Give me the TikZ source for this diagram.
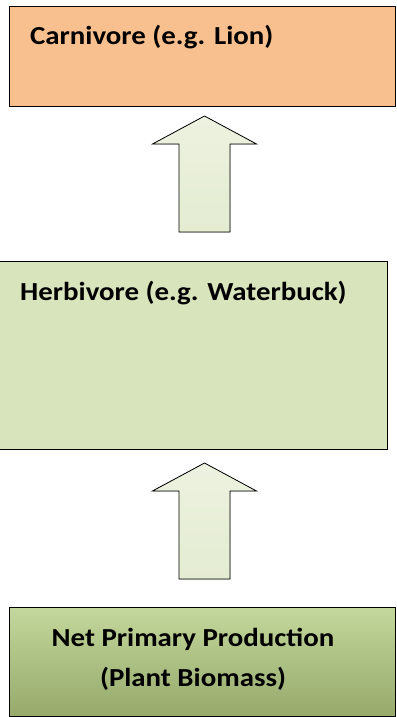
\documentclass[tikz,border=0pt]{standalone}
\usepackage{fontspec}
\setmainfont{Carlito}[FakeStretch=1.11]
\usetikzlibrary{positioning}
\tikzstyle{pixelGrid} = [x = 1pt, y = -1pt]
\definecolor{carnivoreColor}{HTML}{F8C08F}
\definecolor{herbivoreColor}{HTML}{D8E4BC}
\definecolor{productionTop}{HTML}{C4D79C}
\definecolor{productionBottom}{HTML}{97AA6C}
\definecolor{arrowTop}{HTML}{EDF2E0}
\definecolor{arrowBottom}{HTML}{E4ECD2}
\tikzstyle{levelStyle} = [draw=black, line width=1pt]
\tikzstyle{levelText} = [font=\fontsize{26}{40}\selectfont\bfseries, inner sep=0pt, anchor=base west]
\tikzstyle{arrowStyle} = [draw=black, line width=.8pt, top color=arrowTop, bottom color=arrowBottom, line join=miter]
\newcommand{\upArrow}[2]{\coordinate (#1) at (204.5, #2); \filldraw [arrowStyle] (#1) -- ++(52,28) -- ++(-26.5,0) -- ++(0,88) -- ++(-51,0) -- ++(0,-88) -- ++(-26.5,0) -- cycle;}

\begin{document}
\begin{tikzpicture}[pixelGrid]
  \useasboundingbox (0,0) rectangle (396,717);
  \filldraw [levelStyle, fill=carnivoreColor] (9.5,6.5) rectangle (395.5,106);
  \filldraw [levelStyle, fill=herbivoreColor] (-1,261) rectangle (387,449);
  \filldraw [levelStyle, top color=productionTop, bottom color=productionBottom] (9.5,607) rectangle (395.5,716);
  \node [levelText] (carnivoreLabel) at (30,45) {Carnivore (e.g. Lion)};
  \node [levelText] (herbivoreLabel) at (20,300) {Herbivore (e.g. Waterbuck)};
  \node [levelText, anchor=base, align=center] (productionLabel) at (193,686) {Net Primary Production\\(Plant Biomass)};
  \upArrow{energyUp}{116}
  \upArrow{plantsUp}{463}
\end{tikzpicture}
\end{document}
